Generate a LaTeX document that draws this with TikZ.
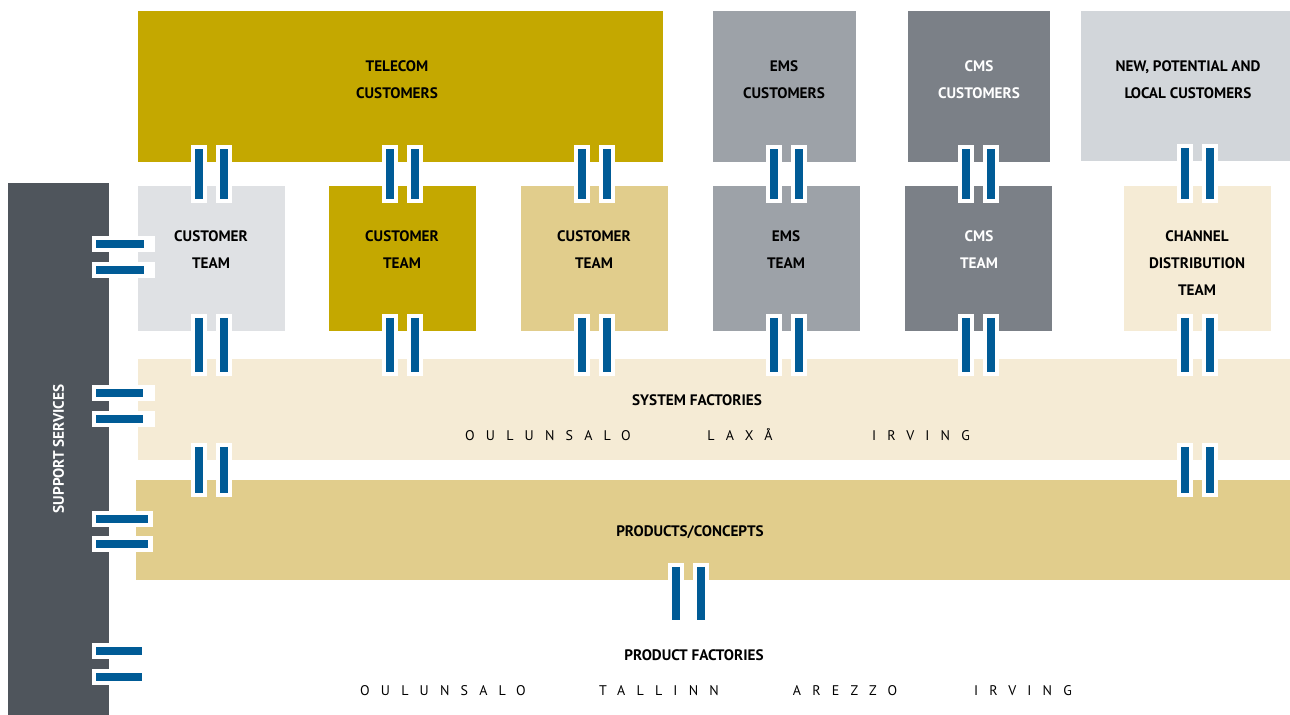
\documentclass[tikz,border=0pt]{standalone}
\usepackage{fontspec}
\setmainfont{PT Sans}
\newfontfamily\cityfont[LetterSpace=80]{PT Sans}
\usetikzlibrary{fit,positioning}

\definecolor{gold}{HTML}{C4A800}
\definecolor{sand}{HTML}{E1CD8C}
\definecolor{cream}{HTML}{F5EBD5}
\definecolor{emsgrey}{HTML}{9DA2A8}
\definecolor{cmsgrey}{HTML}{7B8087}
\definecolor{newgrey}{HTML}{D2D6DA}
\definecolor{teamgrey}{HTML}{DFE1E4}
\definecolor{supgrey}{HTML}{4F555C}
\definecolor{linkblue}{HTML}{005B96}

\tikzset{
  box/.style={inner sep=0pt, outer sep=0pt},
  boxtext/.style={font=\bfseries\fontsize{7.6}{13.5}\selectfont, align=center, inner sep=0pt, anchor=north},
  city/.style={font=\cityfont\fontsize{7}{8}\selectfont, inner sep=0pt, anchor=base},
  link/.style={draw=linkblue, line width=4pt, shorten <=-6.5pt, shorten >=-6.5pt,
    preaction={draw=white, line width=8pt, shorten <=-8.5pt, shorten >=-8.5pt}},
}

\begin{document}
\begin{tikzpicture}[x=0.5pt,y=-0.5pt]
  \useasboundingbox (0,0) rectangle (1290,715);

  % customers
  \node[box, fill=gold, fit={(138,11) (663,162)}] (tel) {};
  \node[box, fill=emsgrey, fit={(713,11) (856,162)}] (ems) {};
  \node[box, fill=cmsgrey, fit={(908,11) (1050,162)}] (cms) {};
  \node[box, fill=newgrey, fit={(1081,11) (1290,161)}] (newc) {};

  % teams
  \node[box, fill=teamgrey, fit={(138,186) (285,331)}] (ct1) {};
  \node[box, fill=gold, fit={(329,186) (476,331)}] (ct2) {};
  \node[box, fill=sand, fit={(521,186) (668,331)}] (ct3) {};
  \node[box, fill=emsgrey, fit={(713,186) (860,331)}] (emst) {};
  \node[box, fill=cmsgrey, fit={(905,186) (1052,331)}] (cmst) {};
  \node[box, fill=cream, fit={(1124,186) (1271,331)}] (chan) {};

  % factories and support
  \node[box, fill=cream, fit={(138,359) (1290,460)}] (sys) {};
  \node[box, fill=sand, fit={(136,480) (1290,580)}] (prod) {};
  \node[box, fill=supgrey, fit={(8,183) (109,715)}] (sup) {};
  \coordinate (pfin) at (136,607);
  \coordinate (pfl) at (136,664);

  % texts
  \node[boxtext] (teltxt) at (397,60) {TELECOM\\CUSTOMERS};
  \node[boxtext] (emstxt) at (784,60) {EMS\\CUSTOMERS};
  \node[boxtext, white] (cmstxt) at (979,60) {CMS\\CUSTOMERS};
  \node[boxtext] (newtxt) at (1188,60) {NEW, POTENTIAL AND\\LOCAL CUSTOMERS};
  \node[boxtext] (ct1txt) at (211,230) {CUSTOMER\\TEAM};
  \node[boxtext] (ct2txt) at (402,230) {CUSTOMER\\TEAM};
  \node[boxtext] (ct3txt) at (594,230) {CUSTOMER\\TEAM};
  \node[boxtext] (emsttxt) at (786,230) {EMS\\TEAM};
  \node[boxtext, white] (cmsttxt) at (979,230) {CMS\\TEAM};
  \node[boxtext] (chantxt) at (1197,230) {CHANNEL\\DISTRIBUTION\\TEAM};
  \node[boxtext] (systxt) at (697,394) {SYSTEM FACTORIES};
  \node[boxtext] (prodtxt) at (690,525) {PRODUCTS/CONCEPTS};
  \node[boxtext] (pftxt) at (694,649) {PRODUCT FACTORIES};
  \node[boxtext, white, anchor=center, rotate=90] (suptxt) at (sup.center) {SUPPORT SERVICES};

  \node[city] (sysoul) at (548,441) {OULUNSALO};
  \node[city] (syslax) at (740,441) {LAXÅ};
  \node[city] (sysirv) at (921,441) {IRVING};
  \node[city] (pfoul) at (443,695) {OULUNSALO};
  \node[city] (pftal) at (659,695) {TALLINN};
  \node[city] (pfare) at (845,695) {AREZZO};
  \node[city] (pfirv) at (1023,695) {IRVING};

  % links
  \foreach \dx in {-6.25pt,6.25pt}{
    \foreach \lo/\up in {ct1/tel, ct2/tel, ct3/tel, emst/ems, cmst/cms, chan/newc}{
      \draw[link] ([xshift=\dx]\lo.north) -- ([xshift=\dx]\lo.north |- \up.south);
      \draw[link] ([xshift=\dx]\lo.south) -- ([xshift=\dx]\lo.south |- sys.north);
    }
    \draw[link] ([xshift=\dx]ct1.south |- sys.south) -- ([xshift=\dx]ct1.south |- prod.north);
    \draw[link] ([xshift=\dx]chan.south |- sys.south) -- ([xshift=\dx]chan.south |- prod.north);
    \draw[link] ([xshift=\dx-12.5pt]prod.south) -- ([xshift=\dx-12.5pt]prod.south |- pfin);
  }
  \foreach \dy in {7.25pt,-5.75pt}
    \draw[link, shorten >=-3pt] ([yshift=\dy]ct1.west -| sup.east) -- ([yshift=\dy]ct1.west);
  \foreach \dy in {8.25pt,-4.75pt}
    \draw[link, shorten >=-2.5pt] ([yshift=\dy]sys.west -| sup.east) -- ([yshift=\dy]sys.west);
  \foreach \dy in {5.5pt,-7pt}
    \draw[link, shorten >=-6pt] ([yshift=\dy]prod.west -| sup.east) -- ([yshift=\dy]prod.west);
  \foreach \dy in {6.5pt,-6.5pt}
    \draw[link, shorten >=-3pt] ([yshift=\dy]pfl -| sup.east) -- ([yshift=\dy]pfl);
\end{tikzpicture}
\end{document}
